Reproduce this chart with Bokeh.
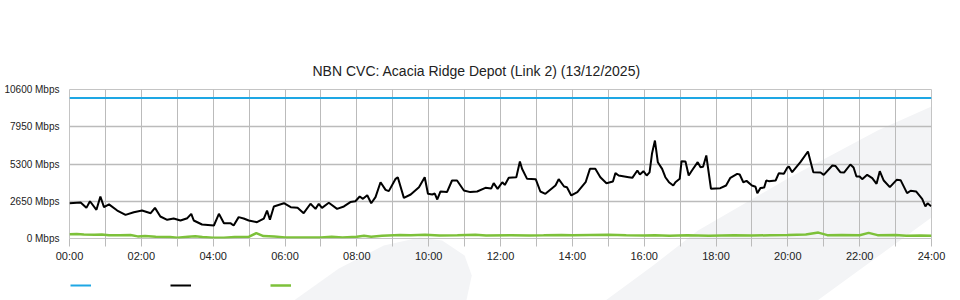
from bokeh.plotting import figure
from bokeh.layouts import column
from bokeh.models import Range1d, FixedTicker, Legend, LegendItem
from bokeh.embed import file_html
from bokeh.resources import INLINE

# ---- data (hours of day, Mbps) ----
title_text = "NBN CVC: Acacia Ridge Depot (Link 2) (13/12/2025)"

cap_hours = [0, 24]
cap_mbps = [10000, 10000]

down_hours = [0.0, 0.31, 0.47, 0.57, 0.75, 0.86, 0.96, 1.1, 1.33, 1.56, 1.79, 2.02, 2.26, 2.38,
              2.53, 2.72, 2.9, 3.09, 3.28, 3.39, 3.46, 3.69, 4.02, 4.16, 4.3, 4.48, 4.57, 4.71,
              4.85, 4.99, 5.22, 5.41, 5.5, 5.58, 5.69, 5.97, 6.16, 6.35, 6.52, 6.71, 6.85, 6.94,
              7.03, 7.22, 7.45, 7.64, 7.82, 7.96, 8.08, 8.17, 8.29, 8.4, 8.52, 8.66, 8.8, 8.89,
              9.08, 9.14, 9.31, 9.5, 9.73, 9.89, 9.98, 10.1, 10.17, 10.24, 10.33, 10.51, 10.65,
              10.79, 10.98, 11.16, 11.35, 11.58, 11.74, 11.81, 11.92, 12.05, 12.12, 12.23, 12.44,
              12.54, 12.6, 12.74, 12.98, 13.11, 13.25, 13.53, 13.62, 13.77, 13.85, 13.97, 14.14,
              14.37, 14.49, 14.64, 14.78, 14.95, 15.13, 15.2, 15.29, 15.57, 15.67, 15.81, 15.88,
              15.98, 16.07, 16.15, 16.22, 16.3, 16.38, 16.5, 16.59, 16.69, 16.81, 16.87, 16.99,
              17.04, 17.15, 17.24, 17.33, 17.49, 17.57, 17.64, 17.73, 17.86, 18.12, 18.28, 18.4,
              18.59, 18.66, 18.76, 18.85, 19.0, 19.1, 19.15, 19.24, 19.34, 19.4, 19.47, 19.66,
              19.75, 19.89, 19.98, 20.03, 20.12, 20.35, 20.56, 20.71, 20.91, 21.0, 21.24, 21.33,
              21.46, 21.57, 21.74, 21.83, 21.91, 22.0, 22.07, 22.21, 22.35, 22.47, 22.56, 22.67,
              22.84, 23.03, 23.14, 23.32, 23.42, 23.57, 23.74, 23.83, 23.89, 23.99]
down_mbps = [2510, 2560, 2180, 2650, 2040, 2990, 2230, 2430, 1990, 1680, 1870, 1990, 1800, 2180,
             1565, 1330, 1420, 1280, 1445, 1755, 1280, 995, 925, 1755, 1090, 1090, 925, 1520,
             1420, 1280, 1160, 1420, 1990, 1330, 2280, 2510, 2230, 2180, 1800, 2470, 2110, 2470,
             2180, 2540, 2110, 2280, 2590, 2650, 2990, 2820, 3080, 2510, 2940, 4005, 3460, 3370,
             4245, 4360, 2890, 3130, 3650, 4360, 3180, 3130, 3200, 2775, 3345, 3300, 4125,
             4125, 3415, 3300, 3345, 3605, 3550, 3935, 3530, 4005, 3810, 4315, 4360,
             5475, 4960, 4245, 4220, 3345, 3180, 3770, 4220, 3700, 3650, 3060, 3300,
             4005, 4955, 4955, 4360, 3935, 4050, 4650, 4480, 4360, 4315, 4840, 4550,
             4790, 4480, 4700, 6070, 6970, 5430, 4955, 4360, 4005, 3770, 4005, 4245,
             5500, 5475, 4480, 4840, 5430, 5070, 5100, 5905, 3535, 3580, 3770, 4315,
             4600, 4550, 4005, 4100, 3770, 3680, 3225, 3600, 3620, 4125, 4080, 4125,
             4650, 4600, 5025, 5120, 4720, 5430, 6190, 4720, 4700, 4530, 5190, 5150,
             4720, 4700, 5265, 5050, 4410, 4410, 4220, 4530, 4300, 3890, 4790, 4125,
             3650, 4175, 4150, 3225, 3400, 3350, 2825, 2280, 2510, 2300]

up_hours = [0.0, 0.2, 0.4, 0.7, 0.9, 1.1, 1.4, 1.7, 1.9, 2.1, 2.4, 2.8, 3.0, 3.3, 3.5, 3.7, 4.0,
            4.3, 4.6, 5.0, 5.2, 5.4, 5.7, 6.0, 6.5, 7.0, 7.3, 7.6, 8.0, 8.2, 8.4, 8.7, 9.2, 9.5,
            9.9, 10.3, 10.8, 11.3, 11.6, 12.3, 12.8, 13.2, 13.7, 14.0, 14.5, 15.0, 15.5, 16.0,
            16.3, 16.7, 17.2, 17.8, 18.5, 19.0, 19.5, 20.0, 20.5, 20.85, 21.1, 21.5, 22.0, 22.25,
            22.5, 23.0, 23.3, 23.7, 24.0]
up_mbps = [300, 320, 280, 260, 280, 230, 240, 250, 150, 170, 120, 110, 60, 130, 160, 100, 50,
           60, 110, 130, 380, 170, 150, 80, 80, 80, 120, 80, 120, 200, 120, 190, 250, 230,
           260, 220, 230, 260, 220, 230, 220, 230, 250, 230, 250, 270, 230, 210,
           240, 200, 230, 200, 240, 210, 230, 250, 290, 420, 240, 250, 230, 400,
           240, 250, 200, 210, 200]

series = [(cap_hours, cap_mbps), (down_hours, down_mbps), (up_hours, up_mbps)]
series_colors = ["#1ea7e4", "#000000", "#7dc13a"]
series_widths = [2, 2, 2.5]

y_ticks = [0, 2650, 5300, 7950, 10600]
y_labels = {v: f"{v} Mbps" for v in y_ticks}
x_ticks = list(range(0, 25))
x_labels = {h: (f"{h:02d}:00" if h % 2 == 0 else "") for h in x_ticks}

FONT = "Liberation Sans"
W, H = 960, 300

# ---- background page decoration + legend (full-canvas frame, pixel space) ----
bg = figure(width=W, height=H, output_backend="svg", toolbar_location=None,
            x_range=Range1d(0, W), y_range=Range1d(H, 0),
            x_axis_type=None, y_axis_type=None, min_border=0)
bg.grid.visible = False
bg.outline_line_color = None
bg.background_fill_color = "white"
bg.border_fill_color = "white"
leaf_x = [250, 300, 350, 390, 415, 440, 448, 442]
leaf_y = [300, 268, 245, 237, 240, 255, 275, 300]
band_x = [597, 650, 700, 800, 900, 960, 960, 833]
band_y = [300, 265, 230, 178, 130, 106, 217, 300]
bg.patches([leaf_x, band_x], [leaf_y, band_y], fill_color="#f3f4f6", line_color=None)

# legend proxies (hidden copies of the series; only their legend swatches show)
legend_renderers = []
for (xs, ys), c, w in zip(series, series_colors, series_widths):
    r = bg.line(xs, ys, line_color=c, line_width=w)
    r.visible = False
    legend_renderers.append(r)
legend = Legend(items=[LegendItem(label=" ", renderers=[r]) for r in legend_renderers],
                orientation="horizontal", location=(1, 10), click_policy="none",
                glyph_width=21, glyph_height=10, label_height=10, label_standoff=0,
                label_width=79, spacing=0, padding=1, margin=0, border_line_color=None,
                background_fill_alpha=0, inactive_fill_alpha=0, label_text_font_size="10px")
bg.add_layout(legend, "center")

# ---- chart ----
p = figure(width=W, height=H, output_backend="svg", toolbar_location=None,
           x_range=Range1d(0, 24), y_range=Range1d(0, 10600),
           min_border_left=69, min_border_right=29, min_border_top=89, min_border_bottom=62,
           title=title_text)
p.margin = (-H, 0, 0, 0)
p.title.align = "left"
p.title.offset = 243
p.title.standoff = 22
p.title.text_font = FONT
p.title.text_font_size = "14px"
p.title.text_font_style = "normal"
p.title.text_color = "#222222"

p.outline_line_color = "#c4c4c4"
p.background_fill_color = None
p.border_fill_color = None

p.xaxis.ticker = FixedTicker(ticks=x_ticks)
p.xaxis.major_label_overrides = x_labels
p.yaxis.ticker = FixedTicker(ticks=y_ticks)
p.yaxis.major_label_overrides = y_labels

for ax in (p.xaxis[0], p.yaxis[0]):
    ax.axis_line_color = None
    ax.minor_tick_line_color = None
    ax.major_label_text_font = FONT
    ax.major_label_text_color = "#222222"
p.xaxis.major_label_text_font_size = "11px"
p.yaxis.major_label_text_font_size = "10px"
p.xaxis.major_tick_line_color = "#bbbbbb"
p.xaxis.major_tick_out = 8
p.xaxis.major_tick_in = 0
p.xaxis.major_label_standoff = 3
p.yaxis.major_tick_line_color = None
p.yaxis.major_tick_out = 0
p.yaxis.major_tick_in = 0
p.yaxis.major_label_standoff = 10

p.xgrid.grid_line_color = "#bbbbbb"
p.ygrid.grid_line_color = "#bbbbbb"
p.ygrid.grid_line_width = 1.5

for (xs, ys), c, w in zip(series, series_colors, series_widths):
    p.line(xs, ys, line_color=c, line_width=w)

page = column(bg, p, spacing=0)
open("out.html", "w").write(file_html(page, INLINE))
